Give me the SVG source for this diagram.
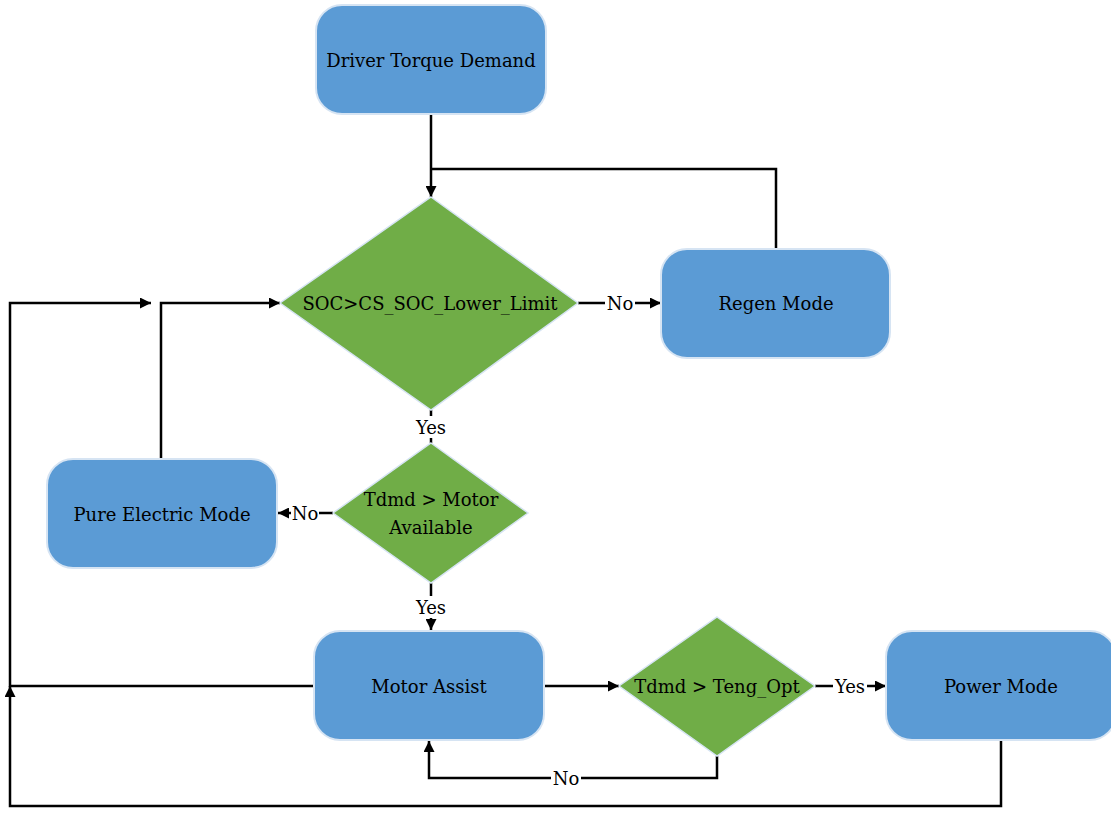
<svg xmlns="http://www.w3.org/2000/svg" width="1111" height="813" viewBox="0 0 1111 813">
<defs>
<style>
.box{fill:#5B9BD5;stroke:#D6E4F3;stroke-width:2}
.dia{fill:#70AD47;stroke:#D6E4F3;stroke-width:1.5}
.t{font-family:'DejaVu Serif',serif;font-size:18px;fill:#000;text-anchor:middle;dominant-baseline:central}
.ln{fill:none;stroke:#000;stroke-width:2.5}
.lbl{fill:#fff}
</style>
<marker id="ar" viewBox="0 0 10 10" refX="10" refY="5" markerWidth="4.4" markerHeight="4.4" markerUnits="strokeWidth" orient="auto">
<path d="M0,0 L10,5 L0,10 z" fill="#000"/>
</marker>
</defs>
<rect width="1111" height="813" fill="#fff"/>
<g id="connectors">
<path class="ln" d="M431,114 V197" marker-end="url(#ar)"/>
<path class="ln" d="M776,249 V169 H431"/>
<path class="ln" d="M578,303 H661" marker-end="url(#ar)"/>
<path class="ln" d="M431,410 V443"/>
<path class="ln" d="M333,513 H278" marker-end="url(#ar)"/>
<path class="ln" d="M431,583 V630" marker-end="url(#ar)"/>
<path class="ln" d="M544,686 H619" marker-end="url(#ar)"/>
<path class="ln" d="M815,686 H886" marker-end="url(#ar)"/>
<path class="ln" d="M717,756 V778 H429 V741" marker-end="url(#ar)"/>
<path class="ln" d="M1001,740 V806 H10 V686" marker-end="url(#ar)"/>
<path class="ln" d="M314,686 H10 V303 H151" marker-end="url(#ar)"/>
<path class="ln" d="M161,459 V303 H280" marker-end="url(#ar)"/>
<rect class="lbl" x="605" y="292" width="30" height="22"/>
<text class="t" x="620" y="303">No</text>
<rect class="lbl" x="414" y="416" width="34" height="22"/>
<text class="t" x="431" y="427">Yes</text>
<rect class="lbl" x="291" y="502" width="28" height="22"/>
<text class="t" x="305" y="513">No</text>
<rect class="lbl" x="414" y="596" width="34" height="22"/>
<text class="t" x="431" y="607">Yes</text>
<rect class="lbl" x="833" y="675" width="34" height="22"/>
<text class="t" x="850" y="686">Yes</text>
<rect class="lbl" x="551" y="767" width="30" height="22"/>
<text class="t" x="566" y="778">No</text>
</g>
<g id="driver-torque-demand">
<rect class="box" x="316" y="5" width="230" height="109" rx="26"/>
<text class="t" x="431" y="60">Driver Torque Demand</text>
</g>
<g id="soc-check">
<polygon class="dia" points="431,197 578,303 431,410 280,303"/>
<text class="t" x="430" y="303">SOC&gt;CS_SOC_Lower_Limit</text>
</g>
<g id="regen-mode">
<rect class="box" x="661" y="249" width="229" height="109" rx="26"/>
<text class="t" x="776" y="303">Regen Mode</text>
</g>
<g id="motor-available-check">
<polygon class="dia" points="431,443 528,513 431,583 333,513"/>
<text class="t" x="431" y="499">Tdmd &gt; Motor</text>
<text class="t" x="431" y="527">Available</text>
</g>
<g id="pure-electric-mode">
<rect class="box" x="47" y="459" width="230" height="109" rx="26"/>
<text class="t" x="162" y="514">Pure Electric Mode</text>
</g>
<g id="motor-assist">
<rect class="box" x="314" y="631" width="230" height="109" rx="26"/>
<text class="t" x="429" y="686">Motor Assist</text>
</g>
<g id="teng-opt-check">
<polygon class="dia" points="717,617 815,686 717,756 619,686"/>
<text class="t" x="717" y="686">Tdmd &gt; Teng_Opt</text>
</g>
<g id="power-mode">
<rect class="box" x="886" y="631" width="230" height="109" rx="26"/>
<text class="t" x="1001" y="686">Power Mode</text>
</g>
</svg>
